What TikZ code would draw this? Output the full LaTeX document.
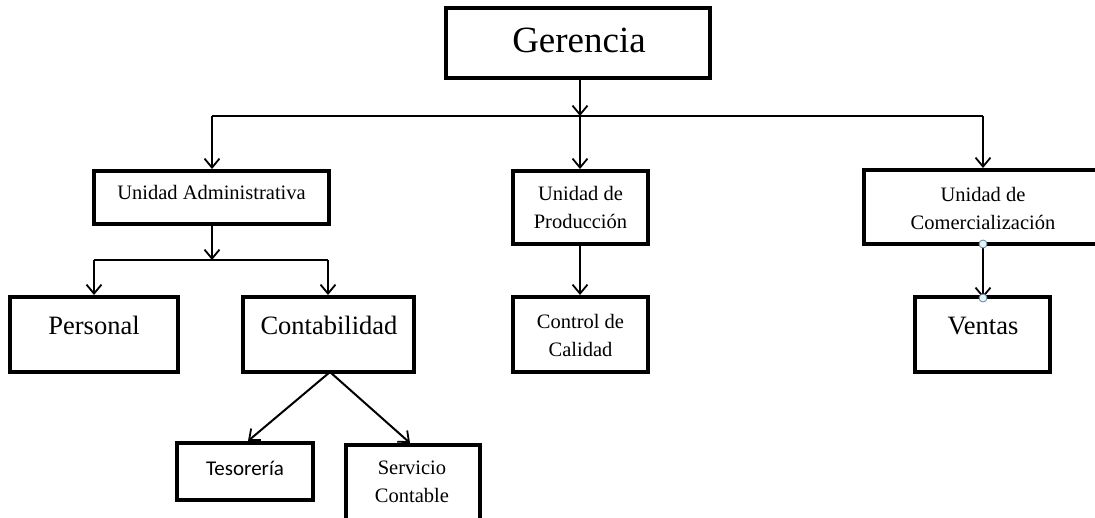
\documentclass[tikz,border=0pt]{standalone}
\usepackage{fontspec}
\setmainfont{Liberation Serif}
\newfontfamily\calib{Carlito}
\usetikzlibrary{arrows.meta}
\begin{document}
\begin{tikzpicture}[x=1pt,y=-1pt,
 box/.style={draw,line width=4pt,rectangle,inner sep=0pt},
 arr/.style={line width=2pt,-{Straight Barb[length=9pt,width=15pt,line width=1.8pt]}},
 ln/.style={line width=2pt},
 txt/.style={align=center,inner sep=0pt,font=\fontsize{20.5}{28}\selectfont},
 big/.style={inner sep=0pt,font=\fontsize{26.5}{32}\selectfont},
 pin/.style={circle,draw=black!45!cyan!60!gray,fill=cyan!12,line width=0.8pt,minimum size=8pt,inner sep=0pt}]
\useasboundingbox (0,0) rectangle (1095,517);
% boxes
\node[box,minimum width=264pt,minimum height=70pt] (ger) at (578,43) {};
\node[box,minimum width=235pt,minimum height=53pt] (ua) at (211.5,197.5) {};
\node[box,minimum width=135pt,minimum height=73pt] (up) at (580.5,207.5) {};
\node[box,minimum width=256pt,minimum height=74pt] (uc) at (992,207) {};
\node[box,minimum width=168pt,minimum height=75pt] (per) at (94,334.5) {};
\node[box,minimum width=171pt,minimum height=75pt] (con) at (328.5,334.5) {};
\node[box,minimum width=135pt,minimum height=75pt] (cc) at (580.5,334.5) {};
\node[box,minimum width=135pt,minimum height=75pt] (ven) at (982.5,334.5) {};
\node[box,minimum width=136pt,minimum height=57pt] (tes) at (245,471.5) {};
\node[box,minimum width=134pt,minimum height=90pt] (sc) at (413,490) {};
% texts
\node[inner sep=0pt,font=\fontsize{37}{42}\selectfont] (gert) at (579,40) {Gerencia};
\node[txt] (uat) at (211.5,192) {Unidad Administrativa};
\node[txt] (upt) at (580.5,207) {Unidad de\\Producción};
\node[txt] (uct) at (983,208) {Unidad de\\Comercialización};
\node[big] (pert) at (94,325) {Personal};
\node[big] (cont) at (329,325) {Contabilidad};
\node[txt] (cct) at (580.5,335) {Control de\\Calidad};
\node[big] (vent) at (983,326) {Ventas};
\node[txt,font=\calib\fontsize{21}{26}\selectfont] (test) at (245,468) {Tesorería};
\node[txt] (sct) at (412,482) {Servicio\\Contable};
% connectors
\coordinate (b1) at (580,116);
\coordinate (bL) at (212,116);
\coordinate (bR) at (983,116);
\draw[arr] (ger.south -| b1) -- (b1);
\draw[ln] (bL) -- (bR);
\draw[arr] (bL) -- (bL |- ua.north);
\draw[arr] (b1) -- (b1 |- up.north);
\draw[arr] (bR) -- (bR |- uc.north);
\coordinate (b2) at (212,260);
\coordinate (b2L) at (94,260);
\coordinate (b2R) at (328,260);
\draw[arr] (ua.south -| b2) -- (b2);
\draw[ln] (b2L) -- (b2R);
\draw[arr] (b2L) -- (per.north);
\draw[arr] (b2R) -- (b2R |- con.north);
\draw[arr] (up.south -| b1) -- (b1 |- cc.north);
\coordinate (cs) at (330,372);
\coordinate (ct) at (248,441);
\coordinate (cv) at (410,443);
\draw[arr] (cs) -- (ct);
\draw[arr] (cs) -- (cv);
\coordinate (q1) at (983,244);
\coordinate (q2) at (983,298);
\draw[arr] (q1) -- (q2);
\node[pin] (p1) at (q1) {};
\node[pin] (p2) at (q2) {};
\end{tikzpicture}
\end{document}
